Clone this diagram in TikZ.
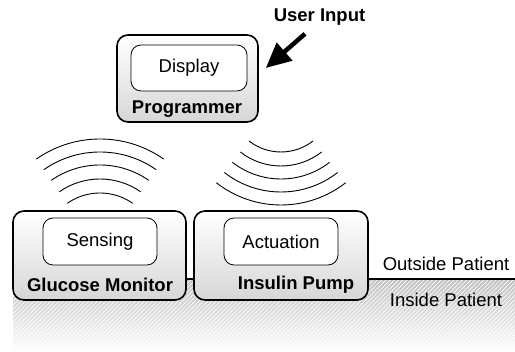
\documentclass[tikz,border=0pt]{standalone}
\usepackage{fontspec}
\setmainfont{Liberation Sans}
\usetikzlibrary{arrows.meta,patterns.meta}

\newcommand{\diagfont}{\fontsize{18.5}{22}\selectfont}

\tikzset{
  unitbox/.style={draw, line width=1.6pt, rounded corners=11pt,
    top color=white, bottom color=gray!32, inner sep=0pt},
  funcbox/.style={draw, line width=0.8pt, rounded corners=10pt, fill=white,
    minimum width=114pt, minimum height=47pt, font=\diagfont},
  unitlabel/.style={font=\diagfont\bfseries},
  sidelabel/.style={font=\diagfont},
  wave/.style={line width=0.9pt},
  inarrow/.style={line width=4.5pt, -{Triangle[length=25pt,width=23pt]}}
}

\begin{document}
\begin{tikzpicture}[x=1pt, y=1pt]
    \useasboundingbox (0,0) rectangle (515,352);

        % Patient skin
    \shade[top color=gray!50, bottom color=white] (13,0) rectangle (515,73);
    \fill[pattern={Lines[angle=45, distance=3pt, line width=0.7pt]}, pattern color=white]
        (13,0) rectangle (515,73);
    \coordinate (skinl) at (13,73);
    \coordinate (skinr) at (515,73);
    \draw[line width=1.4pt] (skinl) -- (skinr);

        % Programmer
    \node[unitbox, minimum width=141pt, minimum height=87pt] (prog) at (187.5,273.5) {};
    \node[funcbox, minimum width=116pt, minimum height=46pt] (display) at (189,284) {Display};
    \node[unitlabel] (proglabel) at (187,243) {Programmer};

        % Glucose monitor
    \node[unitbox, minimum width=173pt, minimum height=89pt] (monitor) at (99.5,96.5) {};
    \node[funcbox] (sensing) at (100,110.5) {Sensing};
    \node[unitlabel] (monlabel) at (100,67) {Glucose Monitor};

        % Insulin pump
    \node[unitbox, minimum width=174pt, minimum height=89pt] (pump) at (281,96.5) {};
    \node[funcbox] (actuation) at (281,110.5) {Actuation};
    \node[unitlabel] (pumplabel) at (296,67) {Insulin Pump};

        % Wireless links
    \coordinate (txmon) at (100,102);
    \coordinate (rxpump) at (281,252);
    \foreach \r in {57,71,85,98,111}
        \draw[wave] (txmon) ++(55:\r) arc[start angle=55, end angle=125, radius=\r];
    \foreach \r in {52,66,79,92,105}
        \draw[wave] (rxpump) ++(232:\r) arc[start angle=232, end angle=308, radius=\r];

        % User input
    \node[unitlabel] (user) at (319.5,335) {User Input};
    \coordinate (uitail) at ([shift={(-14.5,-5)}]user.south);
    \coordinate (uitip) at ([shift={(7,10.5)}]prog.east);
    \draw[inarrow] (uitail) -- (uitip);

        % Patient boundary
    \node[sidelabel] (outside) at (446,88) {Outside Patient};
    \node[sidelabel] (inside) at (446,52) {Inside Patient};
  \end{tikzpicture}
\end{document}
